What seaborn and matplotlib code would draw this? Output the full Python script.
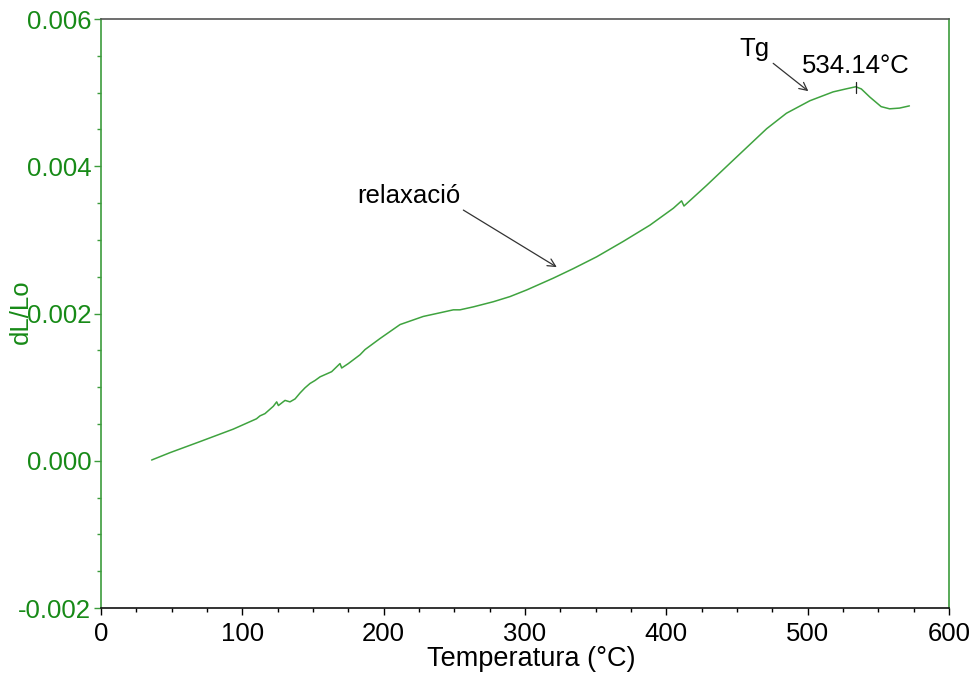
import numpy as np
import pandas as pd
import matplotlib
matplotlib.use("Agg")
import matplotlib.pyplot as plt
import seaborn as sns
from matplotlib.ticker import MultipleLocator

# ---- data ----
temperature = [35.8, 48.8, 70.0, 93.6, 110.0, 112.5, 116.0, 121.9, 124.3, 125.5, 130.2, 133.7,
               137.3, 140.8, 144.3, 147.9, 151.4, 155.0, 159.7, 163.2, 169.1, 170.3, 175.0,
               183.3, 186.8, 197.4, 211.6, 228.0, 239.9, 249.3, 254.0, 263.4, 277.6, 289.4,
               301.2, 320.0, 334.2, 350.7, 369.6, 388.4, 405.0, 410.8, 412.5, 428.5, 445.0,
               462.7, 471.0, 485.0, 501.6, 518.0, 527.0, 534.1, 538.0, 544.0, 552.0, 558.0,
               565.0, 572.0]
dl_lo = [0.00001, 0.00011, 0.00026, 0.00043, 0.00057, 0.00061, 0.00064, 0.00074, 0.00080,
         0.00075, 0.00082, 0.00080, 0.00084, 0.00092, 0.00099, 0.00105, 0.00109, 0.00114,
         0.00118, 0.00121, 0.00132, 0.00126, 0.00132, 0.00144, 0.00151, 0.00166, 0.00185,
         0.00196, 0.00201, 0.00205, 0.00205, 0.00209, 0.00216, 0.00223, 0.00232, 0.00248,
         0.00261, 0.00277, 0.00298, 0.00320, 0.00343, 0.00353, 0.00346, 0.00374, 0.00404,
         0.00436, 0.00451, 0.00472, 0.00489, 0.00501, 0.00505, 0.00508, 0.00505, 0.00494,
         0.00481, 0.00478, 0.00479, 0.00482]

x_ticks = [0, 100, 200, 300, 400, 500, 600]
y_ticks = [-0.002, 0.000, 0.002, 0.004, 0.006]
y_tick_labels = ["-0.002", "0.000", "0.002", "0.004", "0.006"]

tg_value = 534.14
tg_label = "534.14°C"
tg_marker_y = [0.00499, 0.00515]

x_label = "Temperatura (°C)"
y_label = "dL/Lo"

# ---- styling ----
sns.set_style("white")
plt.rcParams["font.family"] = ["Liberation Sans", "DejaVu Sans"]

LABEL_GREEN = "#178A17"
LINE_GREEN = "#3FA33F"
SPINE_GREEN = "#3C9C3C"
FS = 18.5

fig = plt.figure(figsize=(9.77, 6.74), dpi=100)
ax = fig.add_axes([0.1034, 0.0979, 0.8679, 0.8739])

df = pd.DataFrame({"T": temperature, "v": dl_lo})
sns.lineplot(data=df, x="T", y="v", sort=False, estimator=None, ax=ax,
             color=LINE_GREEN, linewidth=1.1)

# peak marker
ax.plot([tg_value, tg_value], tg_marker_y, color="#222222", linewidth=0.9)

ax.set_xlim(0, 600)
ax.set_ylim(-0.002, 0.006)
ax.set_xticks(x_ticks)
ax.set_xticklabels([str(t) for t in x_ticks])
ax.set_yticks(y_ticks)
ax.set_yticklabels(y_tick_labels)
ax.xaxis.set_minor_locator(MultipleLocator(25))
ax.yaxis.set_minor_locator(MultipleLocator(0.0005))

ax.tick_params(axis="x", which="major", direction="out", length=5, width=1, colors="black",
               labelsize=FS, pad=5, bottom=True, top=False)
ax.tick_params(axis="x", which="minor", direction="out", length=3, width=1, colors="black",
               bottom=True, top=False)
ax.tick_params(axis="y", which="major", direction="out", length=5, width=1, colors=SPINE_GREEN,
               labelcolor=LABEL_GREEN, labelsize=FS, pad=2, left=True, right=False)
ax.tick_params(axis="y", which="minor", direction="out", length=3, width=1, colors=SPINE_GREEN,
               left=True, right=False)

for side, col in [("left", SPINE_GREEN), ("right", SPINE_GREEN), ("top", "#555555"), ("bottom", "#111111")]:
    ax.spines[side].set_visible(True)
    ax.spines[side].set_color(col)
    ax.spines[side].set_linewidth(1.2)

ax.set_xlabel(x_label, fontsize=19.5, color="black")
ax.set_ylabel(y_label, fontsize=FS, color=LABEL_GREEN)
ax.yaxis.set_label_coords(-0.080, 0.503)
ax.xaxis.set_label_coords(0.507, -0.064)

# annotations
ax.text(tg_value, 0.00526, tg_label, ha="center", va="baseline", fontsize=FS, color="black")
ax.annotate("Tg", xy=(500.5, 0.00502), xytext=(452, 0.00550), fontsize=FS, color="black",
            ha="left", va="baseline",
            arrowprops=dict(arrowstyle="->", color="#333333", lw=0.9, shrinkA=0, shrinkB=0,
                            mutation_scale=14),
            )
ax.annotate("relaxació", xy=(322.5, 0.00263), xytext=(181, 0.00350), fontsize=FS, color="black",
            ha="left", va="baseline",
            arrowprops=dict(arrowstyle="->", color="#333333", lw=0.9, shrinkA=0, shrinkB=0,
                            mutation_scale=14, relpos=(1.0, 0.0)),
            )

fig.savefig("out.png", dpi=100)
